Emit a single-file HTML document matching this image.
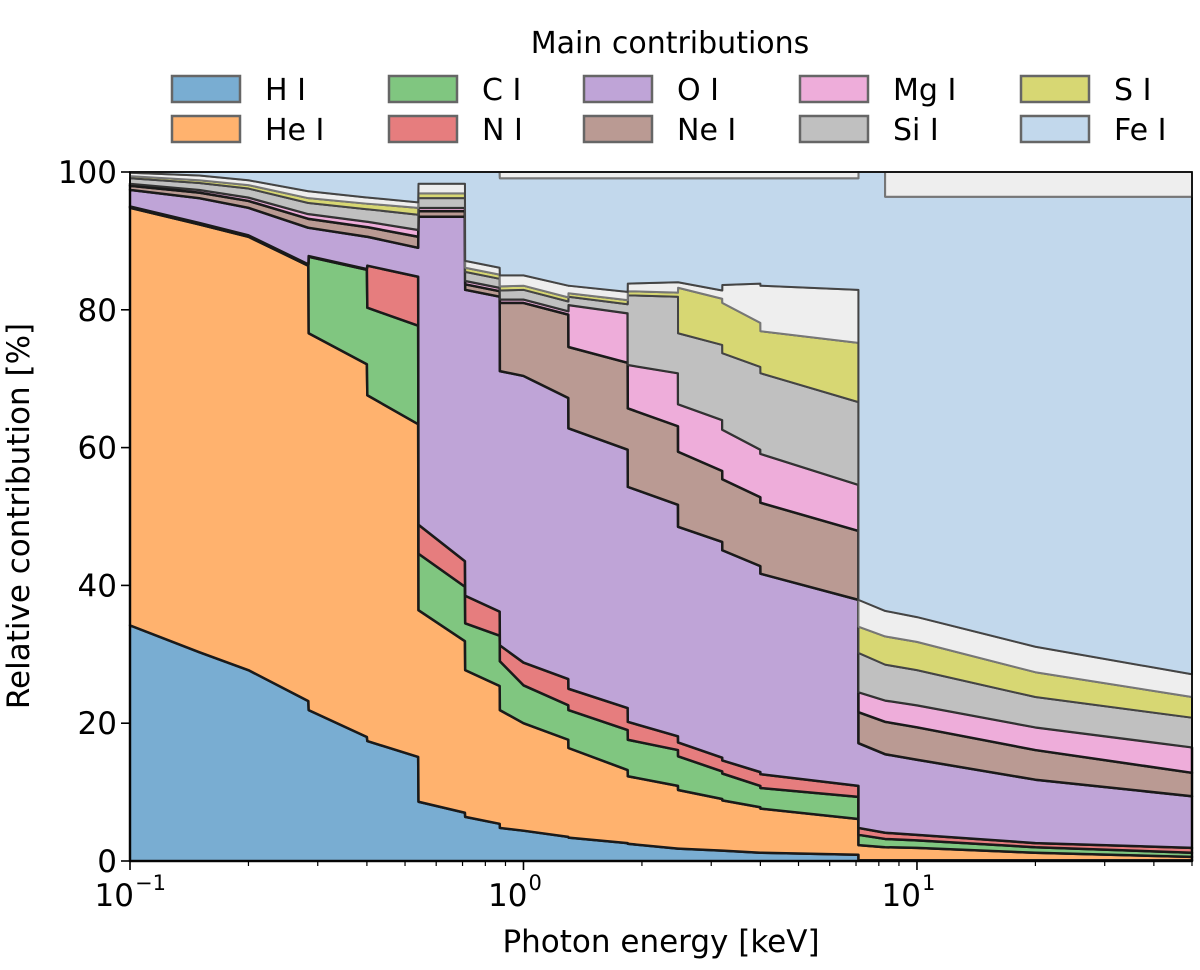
<!DOCTYPE html>
<html><head><meta charset="utf-8"><style>
body{margin:0;background:#fff;}
svg{display:block;font-family:"DejaVu Sans","Liberation Sans",sans-serif;}
</style></head><body>
<svg id="chart" width="1200" height="970" viewBox="0 0 1200 970">
<g id="layers"></g>
<g id="axes"></g>
<g id="legend"></g>
</svg>
<script>
const energies=[0.1,0.15,0.2,0.284,0.2845,0.40,0.401,0.54,0.541,0.71,0.711,0.87,0.871,1.0,1.3,1.301,1.84,1.841,2.47,2.471,3.2,3.201,4.0,4.001,7.1,7.101,8.3,8.301,10,20,50];
const seriesNames=["H I","He I","C I","N I","O I","Ne I","Mg I","Si I","S I","Other","Fe I","Rest"];
const hI=[34.2,30.3,27.7,23.2,21.9,18.0,17.4,15.1,8.6,7.0,6.4,5.4,4.8,4.4,3.5,3.4,2.6,2.5,1.8,1.8,1.5,1.5,1.2,1.2,0.9,0.1,0.1,0.1,0.1,0.1,0.1];
const heI=[60.6,62.1,62.9,63.2,54.7,54.1,50.2,48.3,27.8,24.9,21.3,20.0,17.1,15.6,14.1,13.0,10.6,9.8,9.1,8.5,7.5,7.3,6.6,6.4,5.2,2.2,1.9,1.9,1.8,1.1,0.5];
const cI=[0.1,0.1,0.1,0.1,11.1,13.7,12.7,14.3,8.2,7.9,6.8,7.3,7.1,5.5,5.0,5.5,5.8,5.3,5.2,4.9,4.0,3.9,3.1,3.0,3.2,1.5,1.2,1.2,1.1,0.8,0.6];
const nI=[0.1,0.1,0.1,0.1,0.1,0.1,6.1,7.1,4.2,3.7,4.0,3.5,2.3,3.3,3.8,3.1,3.2,2.6,2.0,2.0,2.0,1.9,2.0,2.0,1.6,1.0,0.9,0.9,0.8,0.6,0.7];
const oI=[2.4,3.6,4.0,5.3,4.1,4.7,4.2,4.2,44.7,50.0,44.4,45.7,39.8,41.6,40.8,37.8,37.5,34.1,33.6,31.3,31.3,30.5,29.9,29.1,27.0,12.3,11.4,11.4,10.9,9.2,7.5];
const neI=[0.6,0.8,1.0,1.3,1.3,1.4,1.4,1.6,0.8,0.8,0.8,0.8,9.9,10.6,12.1,11.8,12.6,11.4,11.4,10.9,10.3,10.3,10.0,10.3,10.0,4.5,4.7,4.7,4.7,4.3,3.4];
const mgI=[0.3,0.4,0.5,0.7,0.7,0.8,0.8,1.0,0.5,0.5,0.5,0.5,0.5,0.5,0.5,6.1,7.2,6.3,7.7,6.9,7.4,7.2,6.9,7.1,6.7,2.9,3.1,3.1,3.2,3.3,3.7];
const siI=[0.8,1.0,1.3,1.6,1.6,1.8,1.8,2.2,1.4,1.4,1.3,1.3,1.3,1.4,1.4,1.2,1.3,10.1,11.1,10.3,10.9,11.1,12.0,11.7,12.0,5.7,5.2,5.2,5.1,4.4,4.3];
const sI=[0.3,0.4,0.5,0.7,0.7,0.8,0.8,1.0,0.7,0.7,0.6,0.6,0.6,0.6,0.6,0.5,0.6,0.6,0.6,6.6,6.7,7.3,6.4,6.1,8.6,3.8,4.1,4.1,4.1,3.6,3.0];
const otherI=[0.5,0.7,0.7,1.0,1.0,0.9,0.9,0.8,1.4,1.4,1.0,1.0,1.6,1.5,1.7,1.1,1.2,1.1,1.5,0.8,1.2,2.6,5.7,6.6,7.7,3.9,3.7,3.7,3.6,3.7,3.3];
const feI=[0.1,0.5,1.2,2.8,2.8,3.7,3.7,4.4,1.7,1.7,12.9,13.9,14.1,14.1,15.6,15.6,16.5,15.3,15.1,15.1,16.3,15.5,15.3,15.6,16.2,62.1,63.7,60.1,61.0,65.3,69.3];
const restI=[0,0,0,0,0,0,0,0,0,0,0,0,0.9,0.9,0.9,0.9,0.9,0.9,0.9,0.9,0.9,0.9,0.9,0.9,0.9,0,0,3.6,3.6,3.6,3.6];
const yTicks=[0,20,40,60,80,100];
const xTickExp=[-1,0,1];

const series=[hI,heI,cI,nI,oI,neI,mgI,siI,sI,otherI,feI,restI];
const colors=["#79add2","#ffb26e","#80c680","#e67d7e","#bfa4d7","#ba9a93","#eeadda","#c0c0c0","#d7d773","#eeeeee","#c2d8ec","#eeeeee"];
const edge=["#1a1a1a","#1a1a1a","#1a1a1a","#1a1a1a","#1a1a1a","#1a1a1a","#1a1a1a","#333","#444","#777","#444","#777"];
const slugs=["h","he","c","n","o","ne","mg","si","s","other","fe","rest"];
const L=130,R=1192,T=172,B=861;
const xMin=Math.log10(0.1),xMax=Math.log10(50);
const X=e=>L+(Math.log10(e)-xMin)/(xMax-xMin)*(R-L);
const Y=v=>B-(v/100)*(B-T);
const NS="http://www.w3.org/2000/svg";
function mk(tag,attrs,parent){const el=document.createElementNS(NS,tag);for(const k in attrs)el.setAttribute(k,attrs[k]);parent.appendChild(el);return el;}

const layers=document.getElementById('layers');
let base=energies.map(()=>0);
series.forEach((vals,si)=>{
  const top=base.map((b,i)=>b+vals[i]);
  let d="M"+energies.map((e,i)=>X(e).toFixed(2)+","+Y(top[i]).toFixed(2)).join("L");
  for(let i=energies.length-1;i>=0;i--)d+="L"+X(energies[i]).toFixed(2)+","+Y(base[i]).toFixed(2);
  d+="Z";
  const p=mk('path',{d:d,fill:colors[si],stroke:edge[si],'stroke-width':si>=7?2:2.5,'stroke-linejoin':'round'},layers);
  
  
  base=top;
});

const axes=document.getElementById('axes');
const frame=mk('rect',{x:L,y:T,width:R-L,height:B-T,fill:'none',stroke:'#000','stroke-width':1.6},axes);


yTicks.forEach(v=>{
  const ln=mk('line',{x1:L-9,x2:L,y1:Y(v),y2:Y(v),stroke:'#000','stroke-width':1.6},axes);
  
  
  const t=mk('text',{x:L-13,y:Y(v)+11,'text-anchor':'end','font-size':31,fill:'#000'},axes);
  t.textContent=v;
  
  
});
for(let ex=-1;ex<=1;ex++){
  for(let m=1;m<=9;m++){
    const e=m*Math.pow(10,ex);
    if(e<0.1||e>50)continue;
    const major=m===1;
    const ln=mk('line',{x1:X(e),x2:X(e),y1:B,y2:B+(major?9:5),stroke:'#000','stroke-width':major?1.6:1.2},axes);
    
    
  }
}
xTickExp.forEach(ex=>{
  const t=mk('text',{x:X(Math.pow(10,ex))+4,y:906,'text-anchor':'end','font-size':31,fill:'#000'},axes);
  t.textContent="10";
  
  
  const s=mk('text',{x:X(Math.pow(10,ex))+5,y:890,'text-anchor':'start','font-size':21,fill:'#000'},axes);
  s.textContent=ex<0?"\u2212"+Math.abs(ex):String(ex);
  
  
});
const xt=mk('text',{x:661,y:952,'text-anchor':'middle','font-size':31,fill:'#000'},axes);
xt.textContent="Photon energy [keV]";


const yt=mk('text',{x:0,y:0,transform:'translate(29,516) rotate(-90)','text-anchor':'middle','font-size':31,fill:'#000'},axes);
yt.textContent="Relative contribution [%]";



const legend=document.getElementById('legend');
const lt=mk('text',{x:670,y:53,'text-anchor':'middle','font-size':30,fill:'#000'},legend);
lt.textContent="Main contributions";


const colX=[172,389,584,800,1021];
for(let i=0;i<10;i++){
  const si=i<9?i:10;
  const col=Math.floor(i/2),row=i%2;
  const px=colX[col],py=row?116:76;
  const g=mk('g',{},legend);
  
  
  mk('rect',{x:px,y:py,width:68,height:26,fill:colors[si],stroke:'#666','stroke-width':2.5},g);
  const t=mk('text',{x:px+93,y:py+24,'font-size':30,fill:'#000'},g);
  t.textContent=seriesNames[si];
}
</script>
</body></html>
